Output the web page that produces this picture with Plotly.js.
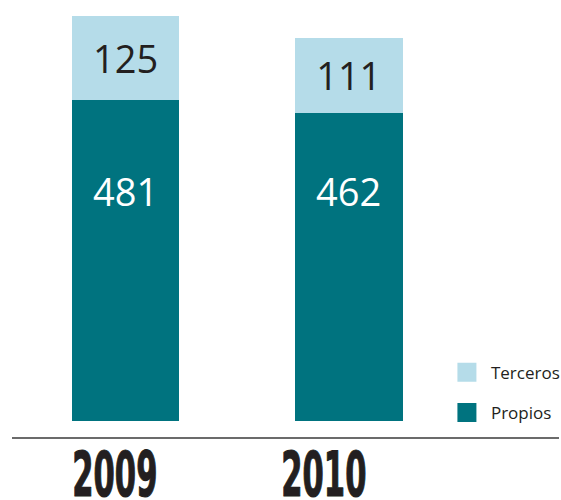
<!DOCTYPE html>
<html><head><meta charset="utf-8">
<script src="https://cdn.plot.ly/plotly-3.0.1.min.js"></script>
<style>html,body{margin:0;padding:0;background:#fff}#chart{width:561px;height:500px}</style>
</head><body><div id="chart"></div>
<script>
// ---- data ----
const years = ['2009', '2010'];
const propios = [481, 462];
const terceros = [125, 111];
const seriesNames = ['Propios', 'Terceros'];

// ---- styles ----
const colorPropios = '#00737F';
const colorTerceros = '#B5DCE9';
const textDark = '#231F20';
const yearShift = [-11, -25];
const barWidth = 0.482;
const yearCondense = 0.54;

const traces = [
  {type: 'bar', name: seriesNames[0], x: years, y: propios, width: barWidth,
   marker: {color: colorPropios}, textposition: 'none', legendgroup: 'p', legendrank: 2, hoverinfo: 'none'},
  {type: 'bar', name: seriesNames[1], x: years, y: terceros, width: barWidth,
   marker: {color: colorTerceros}, text: terceros.map(String), textposition: 'inside',
   insidetextanchor: 'middle', constraintext: 'none',
   textfont: {family: 'Open Sans', size: 38, color: textDark}, legendgroup: 't', legendrank: 1, hoverinfo: 'none'}
];

const annotations = [];
years.forEach((yr, i) => {
  annotations.push({x: i, xref: 'x', y: 0.5556, yref: 'paper', text: String(propios[i]),
    showarrow: false, xanchor: 'center', yanchor: 'middle',
    font: {family: 'Open Sans', size: 38, color: '#ffffff'}});
});
years.forEach((yr, i) => {
  annotations.push({x: i, xref: 'x', y: -0.13, yref: 'paper', text: yr, xshift: yearShift[i],
    showarrow: false, xanchor: 'center', yanchor: 'middle',
    font: {family: 'DejaVu Sans Condensed, DejaVu Sans', size: 63, weight: 700, color: textDark}});
});

const layout = {
  width: 561, height: 500,
  margin: {l: 0, r: 0, t: 7, b: 79},
  paper_bgcolor: '#ffffff', plot_bgcolor: '#ffffff',
  barmode: 'stack',
  showlegend: true,
  legend: {x: 0.7995, xanchor: 'left', y: 0.16, yanchor: 'top', traceorder: 'grouped',
    tracegroupgap: 15, font: {family: 'Open Sans', size: 17, color: textDark}, bgcolor: 'rgba(0,0,0,0)'},
  xaxis: {type: 'category', range: [-0.5625, 1.942], showticklabels: false, showgrid: false,
    zeroline: false, showline: false, ticks: '', fixedrange: true},
  yaxis: {range: [0, 620], visible: false, fixedrange: true},
  shapes: [{type: 'line', xref: 'paper', yref: 'paper', x0: 0.0214, x1: 1, y0: -0.041, y1: -0.041,
    line: {color: '#3a3a3a', width: 1.5}}],
  annotations: annotations
};

const gd = document.getElementById('chart');
Plotly.newPlot(gd, traces, layout, {displayModeBar: false}).then(() => {
  // enlarge legend squares and nudge legend text
  gd.querySelectorAll('.legend .legendpoints path').forEach(p => {
    p.setAttribute('d', 'M9.5,9.5H-9.5V-9.5H9.5Z');
  });
  gd.querySelectorAll('.legend text.legendtext').forEach(t => {
    t.style.transform = 'translateX(4px)';
  });
  // condense (and slightly embolden) the year labels
  gd.querySelectorAll('.annotation text').forEach(t => {
    if (years.indexOf(t.textContent.trim()) >= 0) {
      const bb = t.getBBox();
      const cx = bb.x + bb.width / 2;
      const prev = t.getAttribute('transform') || '';
      t.setAttribute('transform', prev + ` translate(${cx},0) scale(${yearCondense},1) translate(${-cx},0)`);
      t.style.stroke = textDark;
      t.style.strokeWidth = '1.2px';
      t.style.strokeLinejoin = 'round';
    }
  });
});
</script>
</body></html>
